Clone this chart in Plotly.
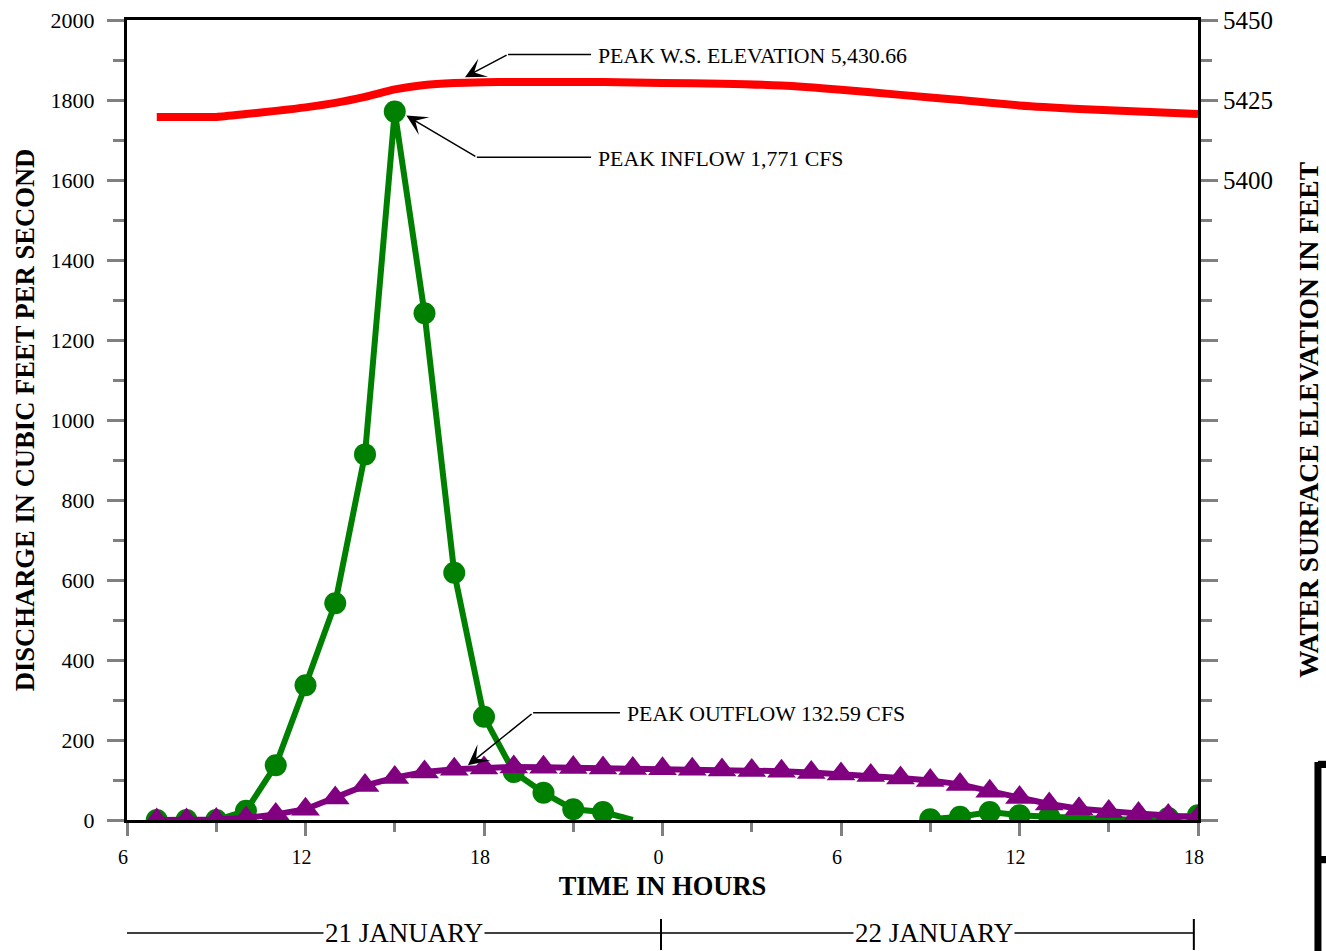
import plotly.graph_objects as go

# ---------------- data ----------------
hours = list(range(7, 43))  # hours after midnight 21 January (7 -> 42 = 18h on 22 Jan)

inflow_cfs = [0, 0, 0, 23, 137, 337, 542, 914, 1771, 1267, 618, 258, 120, 68, 27, 20, 0,
              None, None, None, None, None, None, None, None, None,
              2, 8, 20, 12, 8, 5, 0, 0, 5, 12]

outflow_cfs = [0, 0, 1, 5, 14, 27, 55, 86, 106, 120, 127, 130, 132.59, 132, 131, 130, 129,
               128, 127, 125, 124, 122, 119, 115, 111, 105, 99, 89, 72, 56, 40, 28, 21,
               16, 11, 7]

wse_hours = [7, 8, 9, 10, 11, 12, 13, 14, 15, 16, 17, 18, 19, 20, 22, 24, 26, 28, 30, 32,
             34, 36, 38, 40, 42]
wse_feet = [5419.7, 5419.7, 5419.7, 5420.6, 5421.6, 5422.7, 5424.1, 5426.0, 5428.3, 5429.7,
            5430.3, 5430.55, 5430.66, 5430.66, 5430.6, 5430.35, 5430.1, 5429.5, 5428.2,
            5426.6, 5425.0, 5423.3, 5422.2, 5421.4, 5420.6]

x_tick_vals = [6, 12, 18, 24, 30, 36, 42]
x_tick_text = ["6", "12", "18", "0", "6", "12", "18"]

wse_tick_vals = [5200, 5225, 5250, 5275, 5300, 5325, 5350, 5375, 5400, 5425, 5450]
wse_tick_text = ["", "", "", "", "", "", "", "", "5400", "5425", "5450"]

# ---------------- styling ----------------
SERIF = "Liberation Serif, Times New Roman, serif"
GREY = "#808080"

inflow_marker_size = [0 if (h == 23) else 22 for h in hours]

fig = go.Figure()

fig.add_trace(go.Scatter(
    x=wse_hours, y=wse_feet, yaxis="y2", mode="lines",
    line=dict(color="#FF0000", width=8, shape="spline", smoothing=0.6),
    name="W.S. Elevation"))

fig.add_trace(go.Scatter(
    x=hours, y=inflow_cfs, mode="lines+markers",
    line=dict(color="#008000", width=6),
    marker=dict(color="#008000", size=inflow_marker_size, symbol="circle", opacity=1,
                line=dict(width=0)),
    connectgaps=False, name="Inflow"))

fig.add_trace(go.Scatter(
    x=hours, y=outflow_cfs, mode="lines+markers",
    line=dict(color="#800080", width=6),
    marker=dict(color="#800080", size=25, symbol="triangle-up", opacity=1,
                line=dict(width=0)),
    name="Outflow"))

tickfont_x = dict(family=SERIF, size=20, color="black")

fig.update_layout(
    template="none",
    width=1326, height=951,
    margin=dict(l=127, r=128, t=20, b=131, autoexpand=False),
    paper_bgcolor="white", plot_bgcolor="white",
    showlegend=False,
    font=dict(family=SERIF, color="black"),
    xaxis=dict(
        range=[6, 42], tickmode="array", tickvals=x_tick_vals, ticktext=x_tick_text,
        ticks="outside", ticklen=13, tickwidth=3, tickcolor=GREY,
        minor=dict(ticks="outside", ticklen=9, tickwidth=3, tickcolor=GREY, dtick=3, tick0=6),
        showline=True, linecolor="black", linewidth=3, mirror=True,
        showgrid=False, zeroline=False, automargin=False,
        tickfont=tickfont_x, ticklabelstandoff=4, ticklabelshift=-4,
        title=dict(text="<b>TIME IN HOURS</b>", font=dict(family=SERIF, size=26.5, color="black"),
                   standoff=10),
    ),
    xaxis2=dict(
        overlaying="x", anchor="y", side="bottom", range=[6, 42],
        tickmode="array", tickvals=x_tick_vals, showticklabels=False,
        ticks="inside", ticklen=13, tickwidth=3, tickcolor=GREY,
        minor=dict(ticks="inside", ticklen=9, tickwidth=3, tickcolor=GREY, dtick=3, tick0=6),
        showline=False, showgrid=False, zeroline=False, automargin=False,
    ),
    yaxis=dict(
        range=[0, 2000], tick0=0, dtick=200,
        ticks="outside", ticklen=17, tickwidth=3, tickcolor=GREY,
        minor=dict(ticks="outside", ticklen=11, tickwidth=3, tickcolor=GREY, dtick=100, tick0=0),
        showline=True, linecolor="black", linewidth=3,
        showgrid=False, zeroline=False, automargin=False,
        tickfont=dict(family=SERIF, size=22, color="black"), ticklabelstandoff=8,
        title=dict(text="<b>DISCHARGE IN CUBIC FEET PER SECOND</b>",
                   font=dict(family=SERIF, size=26.6, color="black"), standoff=9),
    ),
    yaxis3=dict(
        overlaying="y", anchor="x", side="left", range=[0, 2000], tick0=0, dtick=200,
        showticklabels=False,
        ticks="inside", ticklen=17, tickwidth=3, tickcolor=GREY,
        minor=dict(ticks="inside", ticklen=11, tickwidth=3, tickcolor=GREY, dtick=100, tick0=0),
        showline=False, showgrid=False, zeroline=False, automargin=False,
    ),
    yaxis2=dict(
        overlaying="y", anchor="x", side="right", range=[5200, 5450],
        tickmode="array", tickvals=wse_tick_vals, ticktext=wse_tick_text,
        ticks="outside", ticklen=17, tickwidth=3, tickcolor=GREY,
        minor=dict(ticks="outside", ticklen=11, tickwidth=3, tickcolor=GREY, dtick=12.5, tick0=5200),
        showline=True, linecolor="black", linewidth=3,
        showgrid=False, zeroline=False, automargin=False,
        tickfont=dict(family=SERIF, size=25, color="black"), ticklabelstandoff=0,
        title=dict(text="<b>WATER SURFACE ELEVATION IN FEET</b>",
                   font=dict(family=SERIF, size=27.5, color="black"), standoff=27),
    ),
    yaxis4=dict(
        overlaying="y", anchor="x", side="right", range=[5200, 5450],
        tickmode="array", tickvals=wse_tick_vals, showticklabels=False,
        ticks="inside", ticklen=17, tickwidth=3, tickcolor=GREY,
        minor=dict(ticks="inside", ticklen=11, tickwidth=3, tickcolor=GREY, dtick=12.5, tick0=5200),
        showline=False, showgrid=False, zeroline=False, automargin=False,
    ),
)

# ---------------- peak annotations (leader: horizontal segment + arrow) ----------------
ann_font = dict(family=SERIF, size=21.8, color="black")
peaks = [
    # text, tip (h, cfs), elbow (h, cfs), end of horizontal leader h, text start h
    ("PEAK W.S. ELEVATION 5,430.66", (17.36, 1857), (18.81, 1914), 21.60, 21.76),
    ("PEAK INFLOW 1,771 CFS", (15.39, 1761), (17.76, 1657), 21.60, 21.76),
    ("PEAK OUTFLOW 132.59 CFS", (17.46, 137), (19.65, 268), 22.57, 22.73),
]
for text, tip, elbow, hend, htext in peaks:
    fig.add_shape(type="line", xref="x", yref="y", x0=elbow[0], y0=elbow[1], x1=hend, y1=elbow[1],
                  line=dict(color="black", width=1.5))
    fig.add_annotation(x=tip[0], y=tip[1], xref="x", yref="y", ax=elbow[0], ay=elbow[1],
                       axref="x", ayref="y", text="", showarrow=True, arrowhead=3,
                       arrowsize=2.3, arrowwidth=1.5, arrowcolor="black")
    fig.add_annotation(x=htext, y=elbow[1] - 4, xref="x", yref="y", text=text, showarrow=False,
                       xanchor="left", yanchor="middle", font=ann_font)

# ---------------- date bracket below the time axis ----------------
date_y = -0.14125
fig.add_shape(type="line", xref="x", yref="paper", x0=5.91, x1=41.86, y0=date_y, y1=date_y,
              line=dict(color="black", width=1.5))
for hx in [5.91, 23.95, 41.86]:
    fig.add_shape(type="line", xref="x", yref="paper", x0=hx, x1=hx, y0=-0.12375, y1=-0.1625,
                  line=dict(color="black", width=2))
for text, hx in [("21 JANUARY", 15.3), ("22 JANUARY", 33.12)]:
    fig.add_annotation(x=hx, y=date_y, xref="x", yref="paper", text=text, showarrow=False,
                       xanchor="center", yanchor="middle", bgcolor="white", borderpad=1,
                       font=dict(family=SERIF, size=27, color="black"))

# ---------------- bracket fragment at the right edge ----------------
fig.add_shape(type="line", xref="paper", yref="paper", x0=1.1120, x1=1.1120, y0=-0.17, y1=0.0725,
              line=dict(color="black", width=7))
fig.add_shape(type="rect", xref="paper", yref="paper", x0=1.1120, x1=1.1205, y0=0.065, y1=0.074,
              line=dict(width=0), fillcolor="black")
fig.add_shape(type="rect", xref="paper", yref="paper", x0=1.1120, x1=1.1205, y0=-0.054, y1=-0.045,
              line=dict(width=0), fillcolor="black")

fig.write_html("out.html", config={"displayModeBar": False},
               post_script="document.body.style.margin='0';")
